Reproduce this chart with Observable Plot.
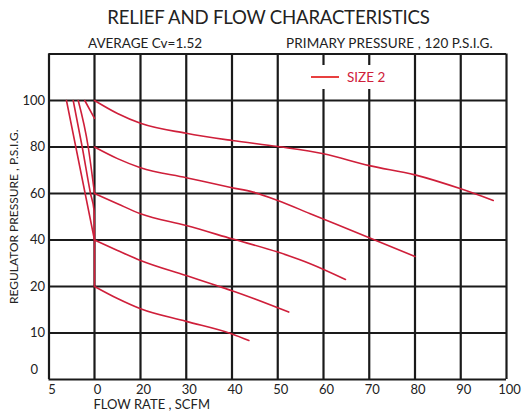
<!DOCTYPE html>
<html>
<head>
<meta charset="utf-8">
<script src="https://cdn.jsdelivr.net/npm/d3@7"></script>
<script src="https://cdn.jsdelivr.net/npm/@observablehq/plot@0.6"></script>
<style>
  body { margin: 0; background: #fff; }
  #wrap { position: relative; width: 525px; height: 419px; font-family: Lato, "Open Sans", sans-serif; color: #222; }
  #head { position: relative; height: 52px; }
  .t { position: absolute; white-space: nowrap; }
  #legend { position: absolute; left: 308px; top: 65px; width: 82px; height: 24px; background: #fff; display: flex; align-items: center; }
</style>
</head>
<body>
<div id="wrap">
  <div id="head">
    <div class="t" id="title" style="left:0;width:537px;text-align:center;top:6px;font-size:18.6px;letter-spacing:-0.2px;">RELIEF AND FLOW CHARACTERISTICS</div>
    <div class="t" style="left:88px;top:35px;font-size:13.5px;">AVERAGE Cv=1.52</div>
    <div class="t" style="left:286px;top:35px;font-size:13.5px;letter-spacing:0.1px;">PRIMARY PRESSURE , 120 P.S.I.G.</div>
  </div>
  <div id="chart"></div>
  <div id="legend"><svg width="32" height="10"><line x1="3" x2="31" y1="5" y2="5" stroke="#e8403f" stroke-width="2"/></svg><span style="color:#cf203a;font-size:13.5px;margin-left:7px;">SIZE 2</span></div>
</div>
<script>
// Regulated pressure curves (flow SCFM vs regulator pressure psig)
const c100x = [0, 10, 20, 30, 40, 50, 60, 70, 80, 90, 97.1];
const c100y = [100, 94.4, 90.2, 85.9, 82.8, 80.2, 77.1, 72.0, 68.0, 62.0, 57.0];
const c80x = [0, 10, 20, 30, 40, 44.6, 50, 57.1, 70, 80];
const c80y = [80, 75, 71.1, 66.8, 62.5, 60.6, 57.0, 51.3, 41.0, 32.9];
const c60x = [0, 10, 20, 30, 40, 50, 57.1, 64.8];
const c60y = [60, 55.6, 51.3, 46.2, 40.5, 34.8, 29.8, 23];
const c40x = [0, 10, 20, 30, 36.6, 40, 52.4];
const c40y = [40, 35.5, 31.2, 24.7, 20.4, 19.1, 14.5];
const c20x = [0, 10, 20, 30, 40, 43.7];
const c20y = [20, 17.4, 15.2, 12.5, 9.8, 8.4];
// Relief curves (relief flow shown as negative, left of 0)
const rAx = [-3.08, 0];          const rAy = [100, 40];
const rBx = [-2.34, -1.35, -0.44, -0.05, 0, 0]; const rBy = [100, 80, 60, 52.7, 40, 20];
const rCx = [-1.79, -0.69, 0];   const rCy = [100, 80, 60];
const rDx = [-1.07, 0];          const rDy = [100, 92.3];

// Axis ticks
const xTicks = [-5, 0, 20, 30, 40, 50, 60, 70, 80, 90, 100];
const xTickLabels = ["5", "0", "20", "30", "40", "50", "60", "70", "80", "90", "100"];
const yTicks = [10, 20, 40, 60, 80, 100];
const yTickLabels = ["10", "20", "40", "60", "80", "100"];
const yGrid = [0, 10, 20, 40, 60, 80, 100, 120];

const seriesList = [
  ["100", c100x, c100y], ["80", c80x, c80y], ["60", c60x, c60y], ["40", c40x, c40y], ["20", c20x, c20y],
  ["rA", rAx, rAy], ["rB", rBx, rBy], ["rC", rCx, rCy], ["rD", rDx, rDy]
];
const rows = seriesList.flatMap(([k, xs, ys]) => xs.map((x, i) => ({k, x, y: ys[i]})));

const red = "#cf1f3a";
const ink = "#1a1a1a";
const font = "Lato, 'Open Sans', sans-serif";

const chart = Plot.plot({
  width: 525,
  height: 367,
  marginLeft: 48.5,
  marginRight: 19,
  marginTop: 1.5,
  marginBottom: 40,
  style: {fontFamily: font, fontSize: "13px", color: "#222", background: "#fff", overflow: "visible"},
  x: {type: "linear", domain: [-5, 0, 20, 100], range: [48.5, 94, 140, 506], axis: null},
  y: {type: "linear", domain: [0, 10, 20, 120], range: [327, 280.5, 234, 1.5], axis: null},
  marks: [
    Plot.ruleX(xTicks, {y1: 0, y2: 120, stroke: ink, strokeWidth: 2.2}),
    Plot.ruleY(yGrid, {x1: -5, x2: 100, stroke: ink, strokeWidth: 2.2}),
    Plot.line(rows, {x: "x", y: "y", z: "k", stroke: red, strokeWidth: 1.6, curve: "monotone-x"}),
    Plot.text(xTicks, {x: d => d, text: (d, i) => xTickLabels[i], frameAnchor: "bottom", dy: 14, dx: 3, fill: "#222"}),
    Plot.text(yTicks, {y: d => d, text: (d, i) => yTickLabels[i], frameAnchor: "left", textAnchor: "end", dx: -4, fill: "#222"}),
    Plot.text(["0"], {frameAnchor: "bottom-left", textAnchor: "end", dx: -11, dy: -6, fill: "#222"}),
    Plot.text(["FLOW RATE , SCFM"], {frameAnchor: "bottom-left", textAnchor: "start", dx: 44.5, dy: 29, fill: "#222"}),
    Plot.text(["REGULATOR PRESSURE , P.S.I.G."], {frameAnchor: "left", textAnchor: "middle", rotate: -90, dx: -34.5, dy: 0, fontSize: 12, fill: "#222"})
  ]
});
document.getElementById("chart").appendChild(chart);
</script>
</body>
</html>
